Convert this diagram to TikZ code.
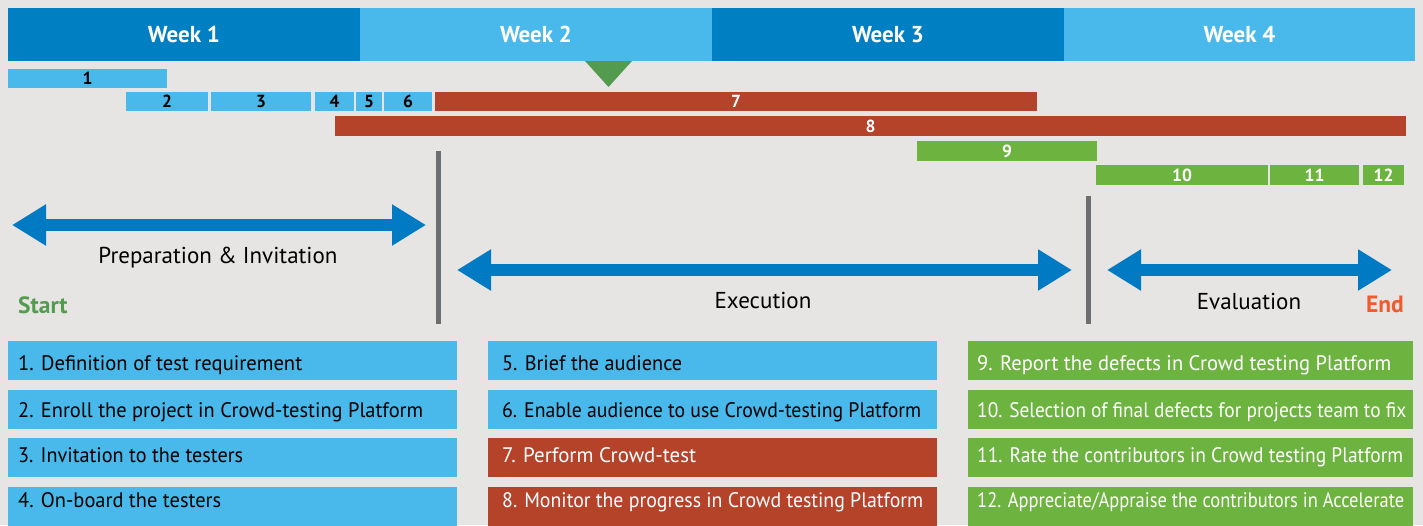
\documentclass[tikz,border=0pt]{standalone}
\usepackage{fontspec}
\usepackage{graphicx}
\setmainfont{PT Sans}
\newfontfamily\boxfont[FakeStretch=0.93]{PT Sans}
\usetikzlibrary{arrows.meta}
\definecolor{bg}{HTML}{E6E5E3}
\definecolor{wkdark}{HTML}{007FC3}
\definecolor{lblue}{HTML}{49B8EA}
\definecolor{rred}{HTML}{B4432A}
\definecolor{ggreen}{HTML}{6DB33F}
\definecolor{trigreen}{HTML}{529B4F}
\definecolor{arrowblue}{HTML}{007AC2}
\definecolor{sepgray}{HTML}{6D6E71}
\definecolor{endorange}{HTML}{F15A2B}
\newcommand\fitw[2]{\resizebox{#1pt}{\height}{#2}}
\tikzset{
  week/.style={inner sep=0, minimum height=53, minimum width=352, text=white, font=\bfseries\fontsize{23}{23}\selectfont},
  bar/.style={inner sep=0, minimum height=19.5, font=\bfseries\fontsize{17.5}{17.5}\selectfont},
  phasearrow/.style={draw=arrowblue, line width=12, {Triangle[length=34pt,width=39pt]}-{Triangle[length=34pt,width=39pt]}},
  sepline/.style={draw=sepgray, line width=5},
  phase/.style={inner sep=0, anchor=base, font=\fontsize{23}{23}\selectfont},
  taskbox/.style={inner sep=0, minimum height=39, anchor=north west},
  tasktext/.style={inner sep=0, anchor=base west, font=\boxfont\fontsize{21}{21}\selectfont},
}
\begin{document}
\begin{tikzpicture}[x=1pt,y=-1pt]
\fill[bg] (0,0) rectangle (1423,525);
\useasboundingbox (0,0) rectangle (1423,525);
% weeks
\node[week, fill=wkdark] (wk1) at (184,34.5) {Week 1};
\node[week, fill=lblue] (wk2) at (536,34.5) {Week 2};
\node[week, fill=wkdark] (wk3) at (888,34.5) {Week 3};
\node[week, fill=lblue, minimum width=351] (wk4) at (1239.5,34.5) {Week 4};
% marker
\fill[trigreen] (585,61) -- (632,61) -- (608.5,87) -- cycle;
% bars
\node[bar, fill=lblue, minimum width=159] (b1) at (87.5,78.5) {1};
\node[bar, fill=lblue, minimum width=82] (b2) at (167,101.5) {2};
\node[bar, fill=lblue, minimum width=100] (b3) at (261,101.5) {3};
\node[bar, fill=lblue, minimum width=39] (b4) at (334.5,101.5) {4};
\node[bar, fill=lblue, minimum width=26] (b5) at (369,101.5) {5};
\node[bar, fill=lblue, minimum width=48] (b6) at (408,101.5) {6};
\node[bar, fill=rred, text=white, minimum width=602] (b7) at (736,101.5) {7};
\node[bar, fill=rred, text=white, minimum width=1071] (b8) at (870.5,126) {8};
\node[bar, fill=ggreen, text=white, minimum width=180] (b9) at (1007,151) {9};
\node[bar, fill=ggreen, text=white, minimum width=172] (b10) at (1182,175) {10};
\node[bar, fill=ggreen, text=white, minimum width=89] (b11) at (1314.5,175) {11};
\node[bar, fill=ggreen, text=white, minimum width=41] (b12) at (1383.5,175) {12};
% separators
\coordinate (v1t) at (438.5,151); \coordinate (v1b) at (438.5,324);
\coordinate (v2t) at (1088.5,196); \coordinate (v2b) at (1088.5,324);
\draw[sepline] (v1t) -- (v1b);
\draw[sepline] (v2t) -- (v2b);
% phase arrows
\coordinate (a1l) at (12,225); \coordinate (a1r) at (426,225);
\coordinate (a2l) at (457,270); \coordinate (a2r) at (1072,270);
\coordinate (a3l) at (1107,270); \coordinate (a3r) at (1392,270);
\draw[phasearrow] (a1l) -- (a1r);
\draw[phasearrow] (a2l) -- (a2r);
\draw[phasearrow] (a3l) -- (a3r);
% phase labels
\node[phase] (lprep) at (218,263) {Preparation \& Invitation};
\node[phase] (lexec) at (763,308) {Execution};
\node[phase] (leval) at (1249,309) {Evaluation};
\node[phase, anchor=base west, text=trigreen, font=\bfseries\fontsize{23.5}{23.5}\selectfont] (lstart) at (18,313) {Start};
\node[phase, anchor=base east, text=endorange, font=\bfseries\fontsize{23.5}{23.5}\selectfont] (lend) at (1404,312) {End};
% task boxes
\foreach \n/\x/\y/\w/\c in {1/8/341/449/lblue, 2/8/390/449/lblue, 3/8/438/449/lblue, 4/8/487/449/lblue,
  5/488/341/449/lblue, 6/488/390/449/lblue, 7/488/438/449/rred, 8/488/487/449/rred,
  9/968/341/445/ggreen, 10/968/390/445/ggreen, 11/968/438/445/ggreen, 12/968/487/445/ggreen}
  \node[taskbox, fill=\c, minimum width=\w] (box\n) at (\x,\y) {};
\node[tasktext] (t1) at (18,370) {\fitw{284}{1. Definition of test requirement}};
\node[tasktext] (t2) at (18,417) {\fitw{405}{2. Enroll the project in Crowd-testing Platform}};
\node[tasktext] (t3) at (18,462) {\fitw{225}{3. Invitation to the testers}};
\node[tasktext] (t4) at (18,507) {\fitw{203}{4. On-board the testers}};
\node[tasktext] (t5) at (502,370) {\fitw{180}{5. Brief the audience}};
\node[tasktext] (t6) at (502,417) {\fitw{419}{6. Enable audience to use Crowd-testing Platform}};
\node[tasktext, text=white] (t7) at (502,462) {\fitw{194}{7. Perform Crowd-test}};
\node[tasktext, text=white] (t8) at (502,507) {\fitw{421}{8. Monitor the progress in Crowd testing Platform}};
\node[tasktext, text=white] (t9) at (977,370) {\fitw{414}{9. Report the defects in Crowd testing Platform}};
\node[tasktext, text=white] (t10) at (977,417) {\fitw{429}{10. Selection of final defects for projects team to fix}};
\node[tasktext, text=white] (t11) at (977,462) {\fitw{426}{11. Rate the contributors in Crowd testing Platform}};
\node[tasktext, text=white] (t12) at (977,507) {\fitw{427}{12. Appreciate/Appraise the contributors in Accelerate}};
\end{tikzpicture}
\end{document}
